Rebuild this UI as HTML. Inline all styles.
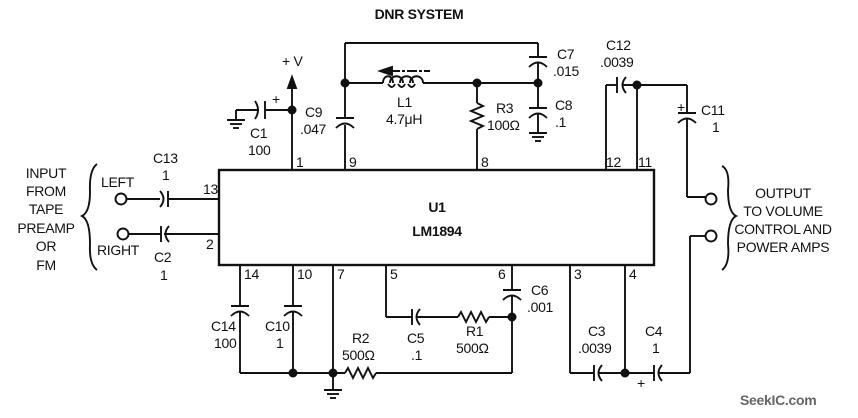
<!DOCTYPE html>
<html><head><meta charset="utf-8"><style>
html,body{margin:0;padding:0;background:#fff;}
svg{display:block;}
text{font-family:"Liberation Sans",Arial,sans-serif;font-size:14px;fill:#111;letter-spacing:-0.3px;}
.b{font-weight:bold;}
</style></head><body>
<svg width="858" height="418" viewBox="0 0 858 418" xmlns="http://www.w3.org/2000/svg">
<g stroke="#111" stroke-width="1.9" fill="none">
<rect x="219" y="170" width="435" height="95" stroke-width="2.4"/>
<line x1="292" y1="170" x2="292" y2="85"/>
<path d="M292 77 L288 88 L296 88 Z" fill="#111"/>
<line x1="266" y1="110" x2="292" y2="110"/>
<line x1="265" y1="101" x2="265" y2="119"/>
<path d="M255 101 Q261 110 255 119"/>
<line x1="259" y1="110" x2="236" y2="110"/>
<line x1="236" y1="110" x2="236" y2="120"/>
<line x1="227" y1="120" x2="245" y2="120"/>
<line x1="230" y1="124" x2="242" y2="124"/>
<line x1="233" y1="128" x2="239" y2="128"/>
<line x1="345" y1="170" x2="345" y2="125"/>
<line x1="336" y1="118" x2="354" y2="118"/>
<path d="M336 128 Q345 119 354 128"/>
<line x1="345" y1="118" x2="345" y2="43"/>
<line x1="345" y1="43" x2="538" y2="43"/>
<line x1="345" y1="83" x2="383" y2="83"/>
<path d="M383 83 C383 74 393 74 393 83 M390 83 C390 74 403 74 403 83 M400 83 C400 74 413 74 413 83 M410 83 C410 74 423 74 423 83"/>
<path d="M388 84 Q392 90 395 84 M398 84 Q402 90 405 84 M408 84 Q412 90 415 84"/>
<line x1="423" y1="83" x2="538" y2="83"/>
<line x1="390" y1="71" x2="430" y2="71" stroke-dasharray="10 2 3 2"/>
<path d="M380 71 L392 67 L392 75 Z" fill="#111"/>
<line x1="477" y1="83" x2="477" y2="103"/>
<path d="M477 103 L483 106 L471 111 L483 116 L471 121 L483 126 L477 129"/>
<line x1="477" y1="129" x2="477" y2="170"/>
<line x1="538" y1="43" x2="538" y2="57"/>
<line x1="529" y1="57" x2="547" y2="57"/>
<path d="M529 67 Q538 58 547 67"/>
<line x1="538" y1="63" x2="538" y2="108"/>
<line x1="529" y1="108" x2="547" y2="108"/>
<path d="M529 118 Q538 109 547 118"/>
<line x1="538" y1="114" x2="538" y2="133"/>
<line x1="529" y1="133" x2="547" y2="133"/>
<line x1="532" y1="137" x2="544" y2="137"/>
<line x1="535" y1="141" x2="541" y2="141"/>
<line x1="606" y1="170" x2="606" y2="85"/>
<line x1="606" y1="85" x2="616" y2="85"/>
<line x1="617" y1="77" x2="617" y2="93"/>
<path d="M626 77 Q619 85 626 93"/>
<line x1="622" y1="85" x2="687" y2="85"/>
<line x1="637" y1="85" x2="637" y2="170"/>
<line x1="687" y1="85" x2="687" y2="113"/>
<line x1="678" y1="113" x2="696" y2="113"/>
<path d="M678 123 Q687 114 696 123"/>
<line x1="687" y1="118" x2="687" y2="197"/>
<line x1="687" y1="197" x2="706" y2="197"/>
<circle cx="711" cy="199" r="5.5" fill="#fff"/>
<line x1="690" y1="236" x2="706" y2="236"/>
<circle cx="711" cy="236" r="5.5" fill="#fff"/>
<line x1="690" y1="236" x2="690" y2="373"/>
<path d="M722 166 Q730 170 728 190 Q728 212 736 216 Q728 220 728 244 Q730 264 722 270"/>
<circle cx="121" cy="199" r="5.5" fill="#fff"/>
<line x1="127" y1="199" x2="160" y2="199"/>
<path d="M160 191 Q167 199 160 207"/>
<line x1="168" y1="191" x2="168" y2="207"/>
<line x1="168" y1="199" x2="219" y2="199"/>
<circle cx="123" cy="234" r="5.5" fill="#fff"/>
<line x1="129" y1="234" x2="161" y2="234"/>
<line x1="161" y1="226" x2="161" y2="242"/>
<path d="M169 226 Q162 234 169 242"/>
<line x1="164" y1="234" x2="219" y2="234"/>
<path d="M97 164 Q89 170 90 192 Q90 212 82 216 Q90 220 90 244 Q89 264 97 270"/>
<line x1="240" y1="265" x2="240" y2="306"/>
<line x1="231" y1="306" x2="249" y2="306"/>
<path d="M231 316 Q240 307 249 316"/>
<line x1="240" y1="311" x2="240" y2="373"/>
<line x1="293" y1="265" x2="293" y2="306"/>
<line x1="284" y1="306" x2="302" y2="306"/>
<path d="M284 316 Q293 307 302 316"/>
<line x1="293" y1="311" x2="293" y2="373"/>
<line x1="240" y1="373" x2="345" y2="373"/>
<line x1="333" y1="265" x2="333" y2="390"/>
<line x1="324" y1="390" x2="342" y2="390"/>
<line x1="327" y1="394" x2="339" y2="394"/>
<line x1="330" y1="398" x2="336" y2="398"/>
<path d="M345 373 L348 368 L353 378 L358 368 L363 378 L368 368 L373 378 L376 373"/>
<line x1="376" y1="373" x2="512" y2="373"/>
<line x1="512" y1="373" x2="512" y2="296"/>
<line x1="386" y1="265" x2="386" y2="317"/>
<line x1="386" y1="317" x2="412" y2="317"/>
<line x1="412" y1="309" x2="412" y2="325"/>
<path d="M420 309 Q413 317 420 325"/>
<line x1="416" y1="317" x2="458" y2="317"/>
<path d="M458 317 L461 312 L466 322 L471 312 L476 322 L481 312 L486 322 L489 317"/>
<line x1="489" y1="317" x2="512" y2="317"/>
<line x1="512" y1="265" x2="512" y2="290"/>
<line x1="503" y1="290" x2="521" y2="290"/>
<path d="M503 300 Q512 291 521 300"/>
<line x1="570" y1="265" x2="570" y2="373"/>
<line x1="570" y1="373" x2="593" y2="373"/>
<line x1="594" y1="365" x2="594" y2="381"/>
<path d="M602 365 Q595 373 602 381"/>
<line x1="598" y1="373" x2="654" y2="373"/>
<line x1="625" y1="265" x2="625" y2="373"/>
<line x1="654" y1="365" x2="654" y2="381"/>
<path d="M662 365 Q655 373 662 381"/>
<line x1="658" y1="373" x2="690" y2="373"/>
</g>
<g fill="#111">
<circle cx="292" cy="110" r="4.5"/><circle cx="345" cy="83" r="4.5"/><circle cx="477" cy="83" r="4.5"/><circle cx="538" cy="83" r="4.5"/>
<circle cx="637" cy="85" r="4.5"/><circle cx="293" cy="373" r="4.5"/><circle cx="333" cy="373" r="4.5"/><circle cx="512" cy="317" r="4.5"/><circle cx="625" cy="373" r="4.5"/>
</g>
<text x="419" y="19" class="b" text-anchor="middle" font-size="13">DNR SYSTEM</text>
<text x="437" y="212" class="b" text-anchor="middle" font-size="19">U1</text>
<text x="437" y="236" class="b" text-anchor="middle" font-size="19">LM1894</text>
<text x="282" y="66">+ V</text>
<text x="272" y="104" font-size="12">+</text>
<text x="250" y="138">C1</text><text x="248" y="155">100</text>
<text x="305" y="117">C9</text><text x="300" y="134">.047</text>
<text x="397" y="107">L1</text><text x="386" y="124">4.7μH</text>
<text x="496" y="113">R3</text><text x="487" y="130">100Ω</text>
<text x="557" y="59">C7</text><text x="553" y="76">.015</text>
<text x="555" y="110">C8</text><text x="555" y="127">.1</text>
<text x="296" y="167">1</text><text x="349" y="167">9</text><text x="481" y="167">8</text>
<text x="606" y="167">12</text><text x="638" y="167">11</text>
<text x="606" y="50">C12</text><text x="600" y="67">.0039</text>
<text x="677" y="112" font-size="12">+</text>
<text x="701" y="115">C11</text><text x="712" y="132">1</text>
<text x="783" y="198" text-anchor="middle">OUTPUT</text>
<text x="783" y="216" text-anchor="middle">TO VOLUME</text>
<text x="783" y="234" text-anchor="middle">CONTROL AND</text>
<text x="783" y="252" text-anchor="middle">POWER AMPS</text>
<text x="46" y="178" text-anchor="middle">INPUT</text>
<text x="46" y="196" text-anchor="middle">FROM</text>
<text x="46" y="214" text-anchor="middle">TAPE</text>
<text x="46" y="233" text-anchor="middle">PREAMP</text>
<text x="46" y="251" text-anchor="middle">OR</text>
<text x="46" y="270" text-anchor="middle">FM</text>
<text x="101" y="187">LEFT</text><text x="97" y="255">RIGHT</text>
<text x="153" y="163">C13</text><text x="162" y="180">1</text>
<text x="154" y="262">C2</text><text x="160" y="280">1</text>
<text x="203" y="194">13</text><text x="206" y="249">2</text>
<text x="244" y="279">14</text><text x="297" y="279">10</text><text x="337" y="279">7</text>
<text x="390" y="279">5</text><text x="498" y="279">6</text>
<text x="574" y="279">3</text><text x="629" y="279">4</text>
<text x="531" y="295">C6</text><text x="527" y="312">.001</text>
<text x="211" y="331">C14</text><text x="214" y="348">100</text>
<text x="265" y="331">C10</text><text x="276" y="348">1</text>
<text x="352" y="343">R2</text><text x="342" y="360">500Ω</text>
<text x="407" y="343">C5</text><text x="411" y="360">.1</text>
<text x="466" y="336">R1</text><text x="456" y="353">500Ω</text>
<text x="588" y="336">C3</text><text x="578" y="353">.0039</text>
<text x="645" y="336">C4</text><text x="652" y="353">1</text>
<text x="637" y="388" font-size="12">+</text>
<text x="740" y="405" class="b" style="fill:#666" font-size="14">SeekIC.com</text>
</svg>
</body></html>
